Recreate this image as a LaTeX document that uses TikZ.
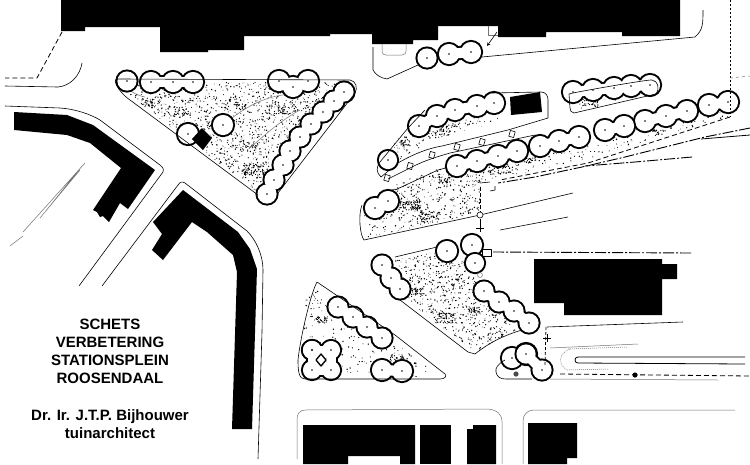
\documentclass[tikz,border=0pt]{standalone}
\usepackage{fontspec}
\setmainfont{Liberation Sans}
\newcommand{\mytrees}[2][11]{%
  \gdef\mypath{}%
  \foreach \px/\py in {#2}{%
    \ifx\mypath\empty\xdef\mypath{(\px,\py)}\else\xdef\mypath{\mypath -- (\px,\py)}\fi}%
  \pgfmathsetmacro{\wo}{1.1*#1+2}%
  \pgfmathsetmacro{\wi}{1.1*#1-2}%
  \pgfmathsetmacro{\ro}{#1+1.1}%
  \pgfmathsetmacro{\ri}{#1-0.9}%
  \edef\mydraw{\noexpand\draw[black,line width=\wo pt] \mypath;}\mydraw
  \foreach \px/\py in {#2}{\fill[black] (\px,\py) circle[radius=\ro];}%
  \edef\mydraw{\noexpand\draw[white,line width=\wi pt] \mypath;}\mydraw
  \foreach \px/\py in {#2}{\fill[white] (\px,\py) circle[radius=\ri];}%
  \foreach \px/\py in {#2}{\fill[black] (\px,\py) circle[radius=0.9];}%
}
\newcommand{\mystipple}[6]{% polygon, x0, y0, w, h, n
  \begin{scope}
    \clip #1 -- cycle;
    \foreach \i in {1,...,#6}{%
      \pgfmathsetmacro{\rx}{#2+rnd*#4}%
      \pgfmathsetmacro{\ry}{#3+rnd*#5}%
      \pgfmathsetmacro{\rs}{0.35+0.45*rnd}%
      \fill[black] (\rx,\ry) circle[radius=\rs];
    }
  \end{scope}%
}
\newcommand{\myclump}[4]{% x y rx n : dark patch
  \foreach \i in {1,...,#4}{%
    \pgfmathsetmacro{\rx}{#1+(rnd-0.5)*2*#3}%
    \pgfmathsetmacro{\ry}{#2+(rnd-0.5)*#3}%
    \fill[black] (\rx,\ry) circle[radius=0.65];
  }%
}
\tikzset{
  thinline/.style={line width=0.6pt,black},
  faintline/.style={line width=0.5pt,black!55},
  dashdot/.style={line width=0.9pt,black,dash pattern=on 11pt off 2pt on 2pt off 2pt},
  dashline/.style={line width=0.8pt,black,dash pattern=on 5pt off 3pt},
  plantitle/.style={align=center,text=black,inner sep=0pt,font=\bfseries\fontsize{15}{18}\selectfont}
}
\begin{document}
\begin{tikzpicture}[x=1pt,y=-1pt,line join=round]
\pgfmathsetseed{4711}
\useasboundingbox (0,0) rectangle (750,464);
\fill[white] (0,0) rectangle (750,464);

% --- black buildings
\fill[black] (61,0) -- (61,31) -- (85,31) -- (85,27) -- (160,27) -- (160,52) -- (208,52) -- (208,50) -- (244,50) -- (244,36) -- (330,36) -- (330,34) -- (372,34) -- (372,44) -- (413,44) -- (413,40) -- (438,40) -- (438,26) -- (498,26) -- (498,37) -- (546,37) -- (546,32) -- (622,32) -- (622,36) -- (680,36) -- (680,0) -- cycle;
\fill[black] (14,112) -- (67,115) -- (93,125) -- (155,170) -- (128,209) -- (120,203) -- (109,222) -- (105,218) -- (103,216) -- (100,217) -- (97,212) -- (93,210) -- (121,168) -- (90,143) -- (67,135) -- (14,130) -- cycle;
\fill[black] (183,190) -- (238,232) -- (250,249) -- (257,269) -- (252,429) -- (232,429) -- (237,272) -- (233,255) -- (207,232) -- (192,222) -- (163,260) -- (152,250) -- (162,234) -- (153,222) -- cycle;
\fill[black] (510,97) -- (540,92) -- (542,112) -- (511,115) -- cycle;
\fill[black] (534,259) -- (662,259) -- (662,264) -- (677,264) -- (677,279) -- (662,279) -- (662,315) -- (564,315) -- (564,303) -- (534,303) -- cycle;
\fill[black] (303,425) -- (415,425) -- (415,464) -- (400,464) -- (400,456) -- (348,456) -- (348,464) -- (303,464) -- cycle;
\fill[black] (420,425) rectangle (451,464);
\fill[black] (467,429) -- (473,429) -- (473,425) -- (496,425) -- (496,464) -- (467,464) -- cycle;
\fill[black] (528,423) -- (577,423) -- (577,458) -- (567,458) -- (567,464) -- (528,464) -- cycle;

% --- stipple
\mystipple{(118,82) -- (350,82) -- (268,190) -- (255,190) -- (135,100)}{118}{80}{235}{112}{2300}
\myclump{255}{170}{12}{70}
\myclump{275}{110}{10}{40}
\myclump{240}{107}{6}{20}
\myclump{150}{102}{10}{30}
\myclump{182}{112}{7}{24}
\myclump{250}{145}{10}{30}
\mystipple{(366,238) -- (364,215) -- (392,185) -- (440,168) -- (520,152) -- (480,185) -- (480,213)}{362}{150}{160}{90}{1100}
\myclump{410}{205}{10}{70}
\myclump{430}{215}{10}{45}
\myclump{445}{180}{6}{25}
\mystipple{(395,260) -- (447,250) -- (475,270) -- (480,295) -- (520,328) -- (475,352) -- (400,295)}{395}{250}{125}{102}{1200}
\myclump{415}{292}{8}{40}
\myclump{445}{318}{10}{55}
\myclump{475}{310}{6}{25}
\mystipple{(303,370) -- (305,300) -- (317,290) -- (360,320) -- (440,373) -- (420,377)}{300}{288}{142}{90}{450}
\myclump{322}{320}{6}{30}
\myclump{397}{358}{7}{20}
\mystipple{(395,140) -- (425,125) -- (500,112) -- (497,122) -- (432,140) -- (390,165)}{390}{112}{112}{55}{330}
\myclump{405}{143}{6}{25}
\myclump{445}{130}{10}{40}
\mystipple{(575,110) -- (652,92) -- (600,100) -- (575,98)}{575}{92}{80}{20}{60}
\myclump{590}{103}{8}{30}
\mystipple{(470,172) -- (720,112) -- (730,116) -- (590,158) -- (495,180) -- (470,186)}{470}{110}{262}{78}{800}
\myclump{530}{160}{6}{20}
\myclump{658}{133}{6}{20}
\myclump{505}{170}{8}{25}

% --- thin outlines, roads
\draw[dashline] (62,32) -- (37,78) -- (5,78);
\draw[thinline] (5,86) -- (58,87) .. controls (70,86) and (80,76) .. (82,63);
\draw[thinline] (5,106) -- (60,108) .. controls (75,109) and (90,114) .. (100,120) -- (160,165) .. controls (164,168) and (164,171) .. (163,172) -- (79,286);
\draw[thinline] (102,286) -- (178,185) .. controls (180,182) and (182,181) .. (185,183) -- (247,231) .. controls (256,240) and (263,255) .. (263,270) -- (262,332) -- (258,459);
\draw[faintline] (85,163) -- (23,232) (80,170) -- (40,218) (82,166) -- (45,212);
\draw[faintline] (10,246) -- (23,236);

\draw[thinline] (703,10) .. controls (703,24) and (703,30) .. (695,37) -- (482,57);
\draw[thinline] (418,65) -- (387,79) .. controls (380,78) and (375,74) .. (373,70) (373,70) -- (373,47);
\draw[faintline] (382,44) -- (382,52) .. controls (382,54) and (384,55) .. (386,55) -- (402,55) .. controls (405,55) and (406,53) .. (406,51) -- (406,44);
\draw[faintline] (488,26) -- (488,35) -- (498,35);
\draw[thinline,-stealth] (497,32) -- (487,46);

% lines hidden behind the trees
\draw[thinline] (395,190) -- (438,170) -- (532,146);
\draw[thinline] (381,177) -- (398,163) .. controls (415,153) and (430,148) .. (442,146) -- (508,130) -- (548,118);
\draw[thinline] (388,179) -- (410,168) .. controls (425,160) and (440,156) .. (450,153) -- (535,135);
\foreach \bx/\by in {387/178,410/166,432/155,457/147,482/142,512/134}{\draw[thinline,rotate around={-16:(\bx,\by)}] (\bx-2.5,\by-3) rectangle (\bx+2.5,\by+3);}
\draw[faintline] (232,118) .. controls (255,100) and (280,92) .. (300,95);
\draw[faintline] (250,148) .. controls (270,130) and (285,118) .. (300,110);
\draw[faintline] (125,84) .. controls (128,90) and (135,95) .. (145,97);

% tree rows
\mytrees[10.5]{127/81}
\mytrees{151/82,173/82,193/82}
\mytrees{279/81,293/87,308/81}
\mytrees[10.5]{344/92,334/101,323/112,311/124,300/137,290/151,283/165,274/180,267/194}
\mytrees{188/134}
\mytrees{223/125}
\mytrees[10.5]{427/58}
\mytrees{449/54,471/52}
\mytrees{419/126,437/116,455/110,477/106,494/103}
\mytrees[10]{388/160}
\mytrees{573/92,593/90,614/88,631/86,650/85}
\mytrees{645/121,666/116,687/111}
\mytrees{605/130,624/126}
\mytrees{540/146,559/141,579/137}
\mytrees{457/166,477/161,498/156,517/151}
\mytrees{709/105,728/102}
\mytrees{375/208,388/201}
\mytrees{447/251}
\mytrees{472/245}
\mytrees[10]{475/263}
\mytrees[10.5]{382/265,391/278,400/289}
\mytrees[10.5]{484/291,499/302,514/311,529/323}
\mytrees{512/358,526/354}
\mytrees[10.5]{526/354,542/370}
\mytrees[10.5]{338/307,353/317,367/327,382/338}
\mytrees{382/370,402/371}
\mytrees[10]{312/350,331/350,331/370,312/370,312/350}
\fill[white] (321,360) circle[radius=6];
\draw[line width=1.3pt,black] (321,354) -- (326,360) -- (321,366) -- (316,360) -- cycle;

% black kiosk over the tree
\fill[black] (202,128) -- (212,138) -- (203,150) -- (192,139) -- cycle;

% lines over the trees
\draw[thinline] (116,84) .. controls (114,79) and (116,79) .. (120,79) -- (350,80) .. controls (356,81) and (358,88) .. (355,93) -- (278,193);
\draw[thinline] (116,84) .. controls (118,89) and (124,96) .. (130,100) -- (258,195);
\draw[thinline] (381,177) .. controls (376,172) and (376,168) .. (380,162) -- (408,128) -- (425,110);
\draw[thinline] (492,93) -- (541,92) .. controls (546,92) and (548,96) .. (548,100) -- (548,118);
\draw[thinline] (569,94) .. controls (570,93) and (650,79) .. (652,80) .. controls (658,81) and (660,88) .. (656,94) -- (574,113) .. controls (571,113) and (570,110) .. (570,108) -- (569,94);

\draw[thinline] (362,205) .. controls (358,215) and (360,235) .. (364,240) -- (480,215);
\draw[thinline] (480,215) -- (573,193) (500,230) -- (568,217);
\draw[line width=0.9pt,black,dash pattern=on 4pt off 2pt] (480,187) -- (480,213);
\draw[thinline,fill=white] (480,215) circle[radius=3];
\draw[line width=0.9pt,black] (480,219) -- (480,232) (476,228) -- (484,228);

\draw[dashline] (730,117) -- (588,163) -- (500,180);
\draw[dashdot] (750,128) -- (705,137) -- (625,157) -- (582,167) -- (535,177) -- (498,183);
\draw[dashdot] (692,157) -- (635,162) -- (585,166);
\draw[black,line width=0.8pt] (750,135) -- (701,139);
\draw[line width=0.8pt,black,dash pattern=on 2pt off 2pt] (730,0) -- (730,117);
\draw[faintline,dash pattern=on 3pt off 3pt] (730,78) -- (750,76);
\draw[thinline] (490,182) -- (480,183) (490,191) -- (495,190) -- (495,186);

\draw[thinline] (395,257) -- (437,247);
\draw[thinline] (400,300) -- (468,352) -- (475,354) .. controls (490,342) and (505,335) .. (522,330);
\draw[thinline] (482,249) rectangle (491,256);
\draw[dashdot] (493,252) -- (692,253);
\draw[faintline] (480,275) circle[radius=2.5];
\draw[thinline] (547,327) -- (683,322);
\draw[faintline] (550,348) -- (638,344);
\draw[line width=0.8pt,black,dash pattern=on 3pt off 2pt] (546,327) -- (545,366);
\draw[thinline] (547,334) -- (547,342) (543,338) -- (551,338);
\draw[thinline] (505,360) .. controls (498,364) and (495,368) .. (496,372) .. controls (497,377) and (500,379) .. (506,379) -- (532,379);
\fill[black!70] (516,374) circle[radius=2.6];
\fill[black] (635,375) circle[radius=2.6];
\draw[dashline] (560,374) -- (750,376);
\draw[faintline] (550,379) -- (718,380);
\draw[line width=0.8pt,black] (745,357) -- (578,357) .. controls (574,357) and (574,363) .. (578,363) -- (745,364);
\draw[faintline,dash pattern=on 1pt off 1pt] (568,349) -- (628,347) (567,370) -- (608,369);
\draw[faintline,dash pattern=on 1pt off 1pt] (570,349) .. controls (558,353) and (558,365) .. (567,370);

\draw[thinline] (317,282) .. controls (310,295) and (300,340) .. (298,360) .. controls (298,372) and (299,379) .. (305,379) -- (440,379) .. controls (445,379) and (447,376) .. (445,374) -- (395,335) -- (317,282);

\draw[faintline] (297,459) -- (297,419) .. controls (297,414) and (300,410) .. (305,410) -- (488,409) .. controls (497,410) and (502,414) .. (502,422) -- (502,464);
\draw[faintline] (523,464) -- (523,421) .. controls (523,415) and (527,410) .. (534,410) -- (735,410);

% --- texts
\node[plantitle] (titlea) at (110,351) {SCHETS\\VERBETERING\\STATIONSPLEIN\\ROOSENDAAL};
\node[plantitle] (titleb) at (110,424) {Dr. Ir. J.T.P. Bijhouwer\\tuinarchitect};
\end{tikzpicture}
\end{document}
